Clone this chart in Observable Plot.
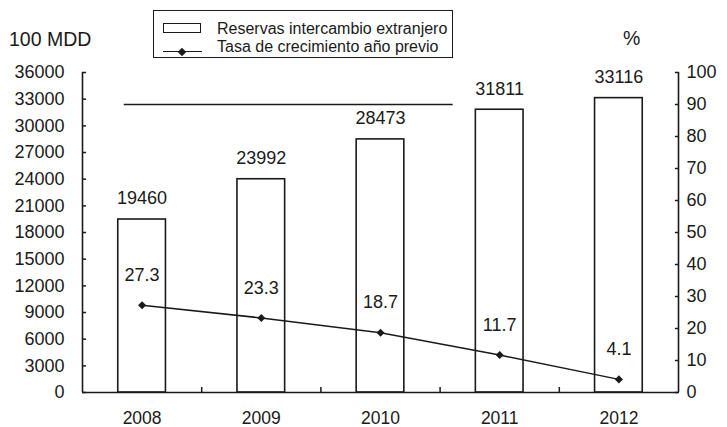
<!DOCTYPE html>
<html><head><meta charset="utf-8">
<script src="https://cdn.jsdelivr.net/npm/d3@7"></script>
<script src="https://cdn.jsdelivr.net/npm/@observablehq/plot@0.6"></script>
<style>
html,body{margin:0;padding:0;background:#fff}
body{font-family:"Liberation Sans",Arial,sans-serif;color:#1a1a1a}
#wrap{position:relative;width:727px;height:427px;overflow:hidden}
.abs{position:absolute;white-space:nowrap}
.unit{font-size:19.5px;line-height:20px}
.leg{font-size:16px;line-height:16px}
#legbox{left:153px;top:10px;width:300px;height:48px;box-sizing:border-box;border:1.5px solid #1a1a1a}
#swRect{left:163px;top:23px;width:38px;height:10px;box-sizing:border-box;border:1.5px solid #1a1a1a}
#swLine{left:163px;top:51px;width:39px;height:0;border-top:1.5px solid #1a1a1a}
#swDia{left:179px;top:48.5px;width:6px;height:6px;background:#1a1a1a;transform:rotate(45deg)}
</style></head><body>
<div id="wrap">
  <div id="chart" class="abs" style="left:0;top:0"></div>
  <div class="abs unit" style="left:9px;top:29px">100 MDD</div>
  <div class="abs unit" style="left:623px;top:28px">%</div>
  <div id="legbox" class="abs"></div>
  <div id="swRect" class="abs"></div>
  <div class="abs leg" style="left:217px;top:21px">Reservas intercambio extranjero</div>
  <div id="swLine" class="abs"></div>
  <div id="swDia" class="abs"></div>
  <div class="abs leg" style="left:217px;top:38.5px">Tasa de crecimiento año previo</div>
</div>
<script>
const years = [2008, 2009, 2010, 2011, 2012];
const reserves = [19460, 23992, 28473, 31811, 33116];
const growth = [27.3, 23.3, 18.7, 11.7, 4.1];
const leftTicks = [0, 3000, 6000, 9000, 12000, 15000, 18000, 21000, 24000, 27000, 30000, 33000, 36000];
const rightTicks = [0, 10, 20, 30, 40, 50, 60, 70, 80, 90, 100];
const guideSpan = [2007.85, 2010.61];
const guideLevel = [90];

const leftMax = 36000, rightMax = 100;
const k = leftMax / rightMax;
const data = years.map((y, i) => ({year: y, reserves: reserves[i], growth: growth[i]}));
const xDomain = [years[0] - 0.5, years[years.length - 1] + 0.5];
const bounds = years.slice(1).map(y => y - 0.5);
const ink = "#1a1a1a";
const half = 0.2;

const chart = Plot.plot({
  width: 727, height: 427,
  marginLeft: 82, marginRight: 49, marginTop: 72, marginBottom: 35,
  style: {fontFamily: '"Liberation Sans", Arial, sans-serif', fontSize: "18px", color: ink, background: "transparent", overflow: "visible"},
  x: {type: "linear", domain: xDomain},
  y: {domain: [0, leftMax]},
  marks: [
    Plot.rectY(data, {x1: d => d.year - half, x2: d => d.year + half, y: "reserves", fill: "white", stroke: ink, strokeWidth: 1.6}),
    Plot.ruleY(guideLevel, {y: d => d * k, x1: guideSpan[0], x2: guideSpan[1], stroke: ink, strokeWidth: 1.3}),
    Plot.text(data, {x: "year", y: "reserves", text: d => String(d.reserves), dy: -21, fill: ink, fontSize: 18}),
    Plot.line(data, {x: "year", y: d => d.growth * k, stroke: ink, strokeWidth: 1.5}),
    Plot.dot(data, {x: "year", y: d => d.growth * k, symbol: "square", rotate: 45, r: 3.2, fill: ink, stroke: "none"}),
    Plot.text(data, {x: "year", y: d => d.growth * k, text: d => d.growth.toFixed(1), dy: -30, fill: ink, fontSize: 18}),
    Plot.ruleX(xDomain, {y1: 0, y2: leftMax, stroke: ink, strokeWidth: 1.6}),
    Plot.ruleY([0], {stroke: ink, strokeWidth: 1.6}),
    Plot.axisY(leftTicks, {anchor: "left", tickSize: -4, tickPadding: 22, label: null, tickFormat: d => String(d), fontSize: 18, strokeWidth: 1.5}),
    Plot.axisY(rightTicks.map(v => v * k), {anchor: "right", tickSize: -4, tickPadding: 12, label: null, tickFormat: d => String(Math.round(d / k)), fontSize: 18, strokeWidth: 1.5}),
    Plot.axisX(bounds, {anchor: "bottom", tickSize: -5, tickFormat: () => "", label: null, strokeWidth: 1.5}),
    Plot.axisX(years, {anchor: "bottom", tickSize: 0, tickPadding: 19, tickFormat: d => String(d), label: null, fontSize: 17.5})
  ]
});
document.getElementById("chart").appendChild(chart);
</script>
</body></html>
